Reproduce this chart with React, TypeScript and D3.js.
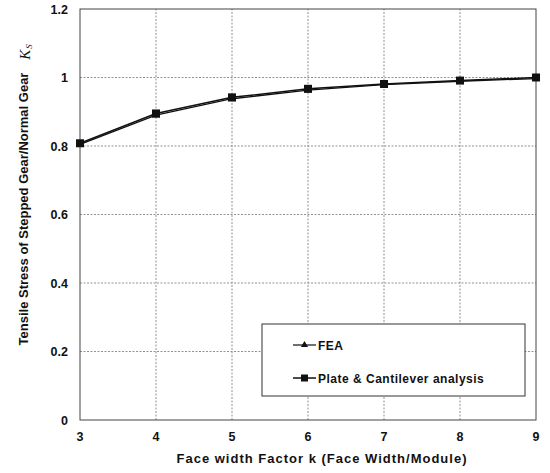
import React from "react";
import * as d3 from "d3";

const xValues = [3, 4, 5, 6, 7, 8, 9];
const feaValues = [0.805, 0.89, 0.938, 0.963, 0.979, 0.989, 0.997];
const plateValues = [0.808, 0.895, 0.942, 0.967, 0.981, 0.991, 1.0];
const yTicks = [0, 0.2, 0.4, 0.6, 0.8, 1, 1.2];
const yTickLabels = ["0", "0.2", "0.4", "0.6", "0.8", "1", "1.2"];
const seriesNames = ["FEA", "Plate & Cantilever analysis"];

export default function App() {
  const W = 550, H = 473;
  const x = d3.scaleLinear().domain([3, 9]).range([80, 536]);
  const y = d3.scaleLinear().domain([0, 1.2]).range([420, 9]);
  const line = d3.line<number>().x((_, i) => x(xValues[i])).y((d) => y(d));
  const font = "'Liberation Sans', Arial, sans-serif";
  return (
    <svg width={W} height={H} style={{ position: "absolute", left: 0, top: 0, background: "#fff" }}>
      <rect x={0} y={0} width={W} height={H} fill="#fff" />
      {/* grid */}
      {yTicks.slice(1, -1).map((t) => (
        <line key={"gy" + t} x1={x(3)} x2={x(9)} y1={y(t)} y2={y(t)} stroke="#777" strokeWidth={0.8} strokeDasharray="2,1.5" />
      ))}
      {xValues.slice(1, -1).map((t) => (
        <line key={"gx" + t} x1={x(t)} x2={x(t)} y1={y(0)} y2={y(1.2)} stroke="#777" strokeWidth={0.8} strokeDasharray="2,1.5" />
      ))}
      <rect x={x(3)} y={y(1.2)} width={x(9) - x(3)} height={y(0) - y(1.2)} fill="none" stroke="#444" strokeWidth={1} />
      {/* y ticks */}
      {yTicks.map((t, i) => (
        <text key={"yt" + t} x={68} y={y(t) + 4.5} textAnchor="end" fontFamily={font} fontWeight="bold" fontSize={12.5} fill="#111">
          {yTickLabels[i]}
        </text>
      ))}
      {xValues.map((t) => (
        <text key={"xt" + t} x={x(t)} y={441} textAnchor="middle" fontFamily={font} fontWeight="bold" fontSize={12.5} fill="#111">
          {t}
        </text>
      ))}
      <text x={322} y={463} textAnchor="middle" fontFamily={font} fontWeight="bold" fontSize={13} letterSpacing={1} fill="#111">
        Face width Factor k (Face Width/Module)
      </text>
      <g transform="translate(28,209) rotate(-90)">
        <text x={0} y={0} textAnchor="middle" fontFamily={font} fontWeight="bold" fontSize={13} fill="#111">
          Tensile Stress of Stepped Gear/Normal Gear
        </text>
      </g>
      <g transform="translate(30,52) rotate(-90)">
        <text x={0} y={0} textAnchor="middle" fontFamily="'Liberation Serif', serif" fontStyle="italic" fontSize={15} fill="#111">
          K<tspan fontSize={9} dy={2} dx={1}>S</tspan>
        </text>
      </g>
      {/* series */}
      <path d={line(feaValues) || ""} fill="none" stroke="#111" strokeWidth={1.3} />
      <path d={line(plateValues) || ""} fill="none" stroke="#111" strokeWidth={1.5} />
      {feaValues.map((v, i) => (
        <path key={"fm" + i} d={d3.symbol(d3.symbolTriangle, 30)() || ""} transform={`translate(${x(xValues[i])},${y(v)})`} fill="#111" />
      ))}
      {plateValues.map((v, i) => (
        <rect key={"pm" + i} x={x(xValues[i]) - 4} y={y(v) - 4} width={8} height={8} fill="#111" />
      ))}
      {/* legend */}
      <rect x={262} y={324} width={263} height={72} fill="#fff" stroke="#333" strokeWidth={1} />
      <line x1={293} x2={316} y1={345} y2={345} stroke="#111" strokeWidth={1.2} />
      <path d={d3.symbol(d3.symbolTriangle, 22)() || ""} transform="translate(304.5,345)" fill="#111" />
      <text x={318} y={349.5} fontFamily={font} fontWeight="bold" fontSize={12} letterSpacing={0.5} fill="#111">{seriesNames[0]}</text>
      <line x1={293} x2={316} y1={378} y2={378} stroke="#111" strokeWidth={1.5} />
      <rect x={301} y={374.5} width={7} height={7} fill="#111" />
      <text x={318} y={382.5} fontFamily={font} fontWeight="bold" fontSize={12} letterSpacing={0.5} fill="#111">{seriesNames[1]}</text>
    </svg>
  );
}
